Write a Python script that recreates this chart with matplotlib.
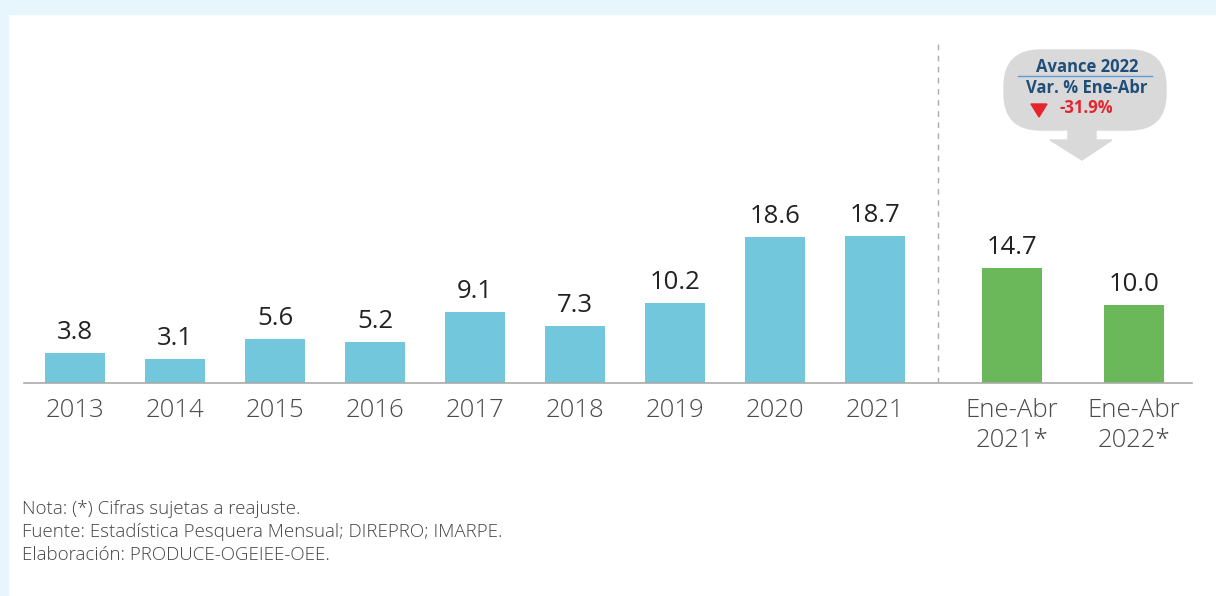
import matplotlib
matplotlib.use("Agg")
import matplotlib.pyplot as plt
from matplotlib.patches import Rectangle, FancyBboxPatch, Polygon

plt.rcParams['font.family'] = ['Open Sans', 'DejaVu Sans']

# datos
years = ['2013', '2014', '2015', '2016', '2017', '2018', '2019', '2020', '2021']
year_vals = [3.8, 3.1, 5.6, 5.2, 9.1, 7.3, 10.2, 18.6, 18.7]
partial = ['Ene-Abr\n2021*', 'Ene-Abr\n2022*']
partial_vals = [14.7, 10.0]
var_pct = '-31.9%'

blue = '#73c7dc'
green = '#6ab85a'

fig = plt.figure(figsize=(12.16, 5.96), dpi=100)
fig.patch.set_facecolor('white')
# marco celeste arriba / izquierda
fig.patches.append(Rectangle((0, 1 - 14 / 596), 1, 14 / 596, transform=fig.transFigure,
                             color='#e6f6fc', zorder=0))
fig.patches.append(Rectangle((0, 0), 8 / 1216, 1, transform=fig.transFigure,
                             color='#e6f6fc', zorder=0))

ax = fig.add_axes([24 / 1216, 213 / 596, (1192 - 24) / 1216, 353 / 596])
ax.set_facecolor('none')

x_years = list(range(len(years)))
x_part = [9.37, 10.59]

ax.bar(x_years, year_vals, width=0.6, color=blue)
ax.bar(x_part, partial_vals, width=0.6, color=green)

for x, v in zip(x_years + x_part, year_vals + partial_vals):
    ax.text(x, v + 1.0, f'{v:.1f}', ha='center', va='bottom', fontsize=18.5,
            color='#222222', fontweight='medium')

ax.set_xticks(x_years + x_part)
ax.set_xticklabels(years + partial, fontsize=18.5, color='#4a4a4a', linespacing=1.25,
                   fontweight='light')
ax.tick_params(axis='x', length=0, pad=11)
ax.set_yticks([])
ax.set_xlim(-0.51, 11.17)
ax.set_ylim(0, 45)
for s in ['top', 'right', 'left']:
    ax.spines[s].set_visible(False)
ax.spines['bottom'].set_color('#aaaaaa')
ax.spines['bottom'].set_linewidth(1.2)

ax.axvline(8.63, ymin=0, ymax=0.96, color='#aaaaaa', linestyle=(0, (4, 4)), linewidth=1)

# recuadro de variacion
def px(x, y):
    return (x / 1216, 1 - y / 596)

bx0, by0 = px(1004, 130)
bx1, by1 = px(1166, 50)
fig.patches.append(FancyBboxPatch((bx0, by0), bx1 - bx0, by1 - by0,
                                  boxstyle='round,pad=0,rounding_size=0.03',
                                  transform=fig.transFigure, color='#d9d9d9',
                                  mutation_aspect=1216 / 596, zorder=1))
arrow = [px(1068, 129), px(1096, 129), px(1096, 140), px(1112, 140),
         px(1082, 160), px(1050, 140), px(1068, 140)]
fig.patches.append(Polygon(arrow, closed=True, transform=fig.transFigure,
                           color='#d9d9d9', zorder=1))
fig.text(*px(1087, 67), 'Avance 2022', ha='center', va='center', fontsize=12,
         fontweight='bold', color='#1f4e79')
fig.lines.append(plt.Line2D([1018 / 1216, 1152 / 1216], [1 - 76 / 596] * 2,
                            transform=fig.transFigure, color='#5b9bd5', linewidth=1))
fig.text(*px(1087, 88), 'Var. % Ene-Abr', ha='center', va='center', fontsize=12,
         fontweight='bold', color='#1f4e79')
fig.patches.append(Polygon([px(1031, 104), px(1047, 104), px(1039, 117)], closed=True,
                           transform=fig.transFigure, color='#e3262e'))
fig.text(*px(1060, 108), var_pct, ha='left', va='center', fontsize=12,
         fontweight='bold', color='#e3262e')

notes = ('Nota: (*) Cifras sujetas a reajuste.\n'
         'Fuente: Estadística Pesquera Mensual; DIREPRO; IMARPE.\n'
         'Elaboración: PRODUCE-OGEIEE-OEE.')
fig.text(*px(22, 532), notes, ha='left', va='center', fontsize=13.5,
         color='#444444', linespacing=1.35, fontweight='light')

fig.savefig('out.png', dpi=100)
